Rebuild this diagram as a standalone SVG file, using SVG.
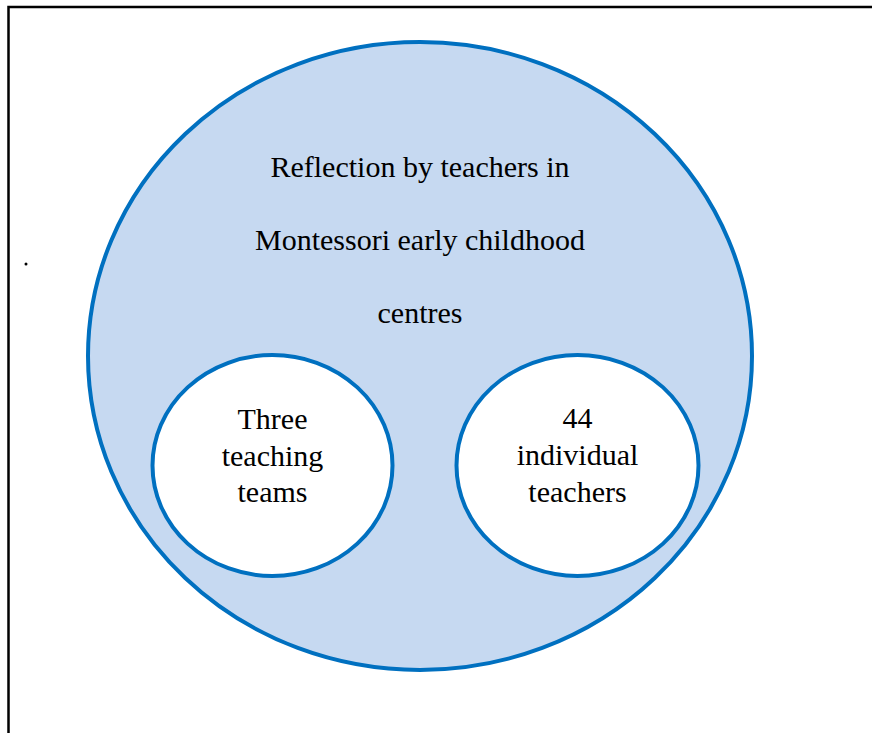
<svg xmlns="http://www.w3.org/2000/svg" width="872" height="733" viewBox="0 0 872 733">
<style>
.frame{stroke:#000;stroke-width:2.5;fill:none}
.outer{fill:#C6D9F1;stroke:#0070C0;stroke-width:4}
.inner{fill:#fff;stroke:#0070C0;stroke-width:4}
.t{font-family:"Liberation Serif","Times New Roman",serif;font-size:30px;fill:#000;text-anchor:middle}
</style>
<rect width="872" height="733" fill="#fff"/>
<path class="frame" d="M8.5,733 V7 H872"/>
<circle cx="26" cy="264" r="1.5" fill="#000"/>
<g id="main">
<ellipse class="outer" cx="420" cy="356" rx="332" ry="314"/>
<text class="t" x="420" y="177">Reflection by teachers in</text>
<text class="t" x="420" y="250">Montessori early childhood</text>
<text class="t" x="420" y="323">centres</text>
</g>
<g id="teams">
<ellipse class="inner" cx="272.5" cy="465.5" rx="120" ry="110.5"/>
<text class="t" x="272.5" y="429">Three</text>
<text class="t" x="272.5" y="466">teaching</text>
<text class="t" x="272.5" y="502">teams</text>
</g>
<g id="individuals">
<ellipse class="inner" cx="577.5" cy="465.5" rx="121" ry="110.5"/>
<text class="t" x="577.5" y="428">44</text>
<text class="t" x="577.5" y="465">individual</text>
<text class="t" x="577.5" y="502">teachers</text>
</g>
<g id="connectors"/>
</svg>
